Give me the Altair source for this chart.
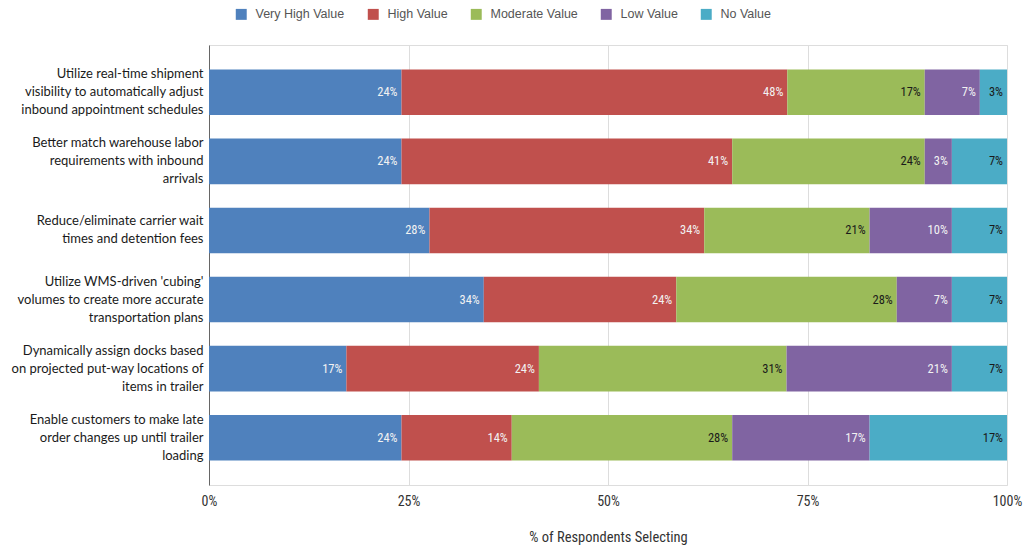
import altair as alt
import pandas as pd

tasks = [
    "Utilize real-time shipment|visibility to automatically adjust|inbound appointment schedules",
    "Better match warehouse labor|requirements with inbound|arrivals",
    "Reduce/eliminate carrier wait|times and detention fees",
    "Utilize WMS-driven 'cubing'|volumes to create more accurate|transportation plans",
    "Dynamically assign docks based|on projected put-way locations of|items in trailer",
    "Enable customers to make late|order changes up until trailer|loading",
]
levels = ["Very High Value", "High Value", "Moderate Value", "Low Value", "No Value"]
colors = ["#4F81BD", "#C0504D", "#9BBB59", "#8064A2", "#4BACC6"]

very_high = [24.1, 24.1, 27.6, 34.4, 17.2, 24.1]
high = [48.3, 41.4, 34.4, 24.1, 24.1, 13.8]
moderate = [17.2, 24.1, 20.7, 27.6, 31.0, 27.6]
low = [6.9, 3.4, 10.3, 6.9, 20.7, 17.2]
none_ = [3.4, 6.9, 6.9, 6.9, 6.9, 17.2]

series = [very_high, high, moderate, low, none_]
rows = []
for li, (lvl, vals) in enumerate(zip(levels, series)):
    for t, v in zip(tasks, vals):
        rows.append({"task": t, "level": lvl, "order": li, "value": v})
df = pd.DataFrame(rows)

narrow = "Liberation Sans Narrow, Roboto Condensed, Roboto, sans-serif"

base = alt.Chart(df).transform_stack(
    stack="value",
    as_=["x0", "x1"],
    groupby=["task"],
    sort=[alt.SortField("order", order="ascending")],
    offset="normalize",
)

ysc = alt.Scale(domain=tasks, paddingInner=0.34, paddingOuter=0.355)

bars = base.mark_bar().encode(
    x=alt.X(
        "x0:Q",
        scale=alt.Scale(domain=[0, 1], nice=False),
        axis=alt.Axis(
            format=".0%",
            values=[0, 0.25, 0.5, 0.75, 1],
            title="% of Respondents Selecting",
            titleFont=narrow,
            titleFontSize=14.5,
            titleFontWeight="normal",
            titleColor="#333",
            titlePadding=22,
            labelFont=narrow,
            labelFontSize=14,
            labelColor="#333",
            labelPadding=9,
            labelFlush=False,
            domain=False,
            ticks=False,
            grid=True,
            gridColor="#dddddd",
        ),
    ),
    x2="x1:Q",
    y=alt.Y(
        "task:N",
        scale=ysc,
        sort=tasks,
        title=None,
        axis=alt.Axis(
            labelExpr="split(datum.label, '|')",
            labelFont="Lato, Open Sans, sans-serif",
            labelFontSize=13,
            labelColor="#1a1a1a",
            labelLineHeight=18,
            labelPadding=6,
            labelLimit=300,
            labelOffset=alt.condition(
                "indexof(datum.value, 'Reduce') == 0", alt.value(-9), alt.value(-18)
            ),
            ticks=False,
            domain=True,
            domainColor="#666",
            grid=False,
        ),
    ),
    color=alt.Color(
        "level:N",
        scale=alt.Scale(domain=levels, range=colors),
        sort=levels,
        legend=alt.Legend(
            title=None,
            orient="none",
            direction="horizontal",
            legendX=26,
            legendY=-37,
            symbolType="square",
            symbolSize=120,
            symbolStrokeWidth=0,
            labelFont="Liberation Sans, Arial, sans-serif",
            labelFontSize=12.5,
            labelColor="#555",
            labelOffset=8,
            columnPadding=22,
        ),
    ),
    order=alt.Order("order:Q"),
)

labels = base.transform_calculate(
    pct="format(datum.x1 - datum.x0, '.0%')",
    dark="datum.level == 'Moderate Value' || datum.level == 'No Value'",
).mark_text(align="right", baseline="middle", dx=-4, font=narrow, fontSize=12.5).encode(
    x="x1:Q",
    y=alt.Y("task:N", scale=ysc, sort=tasks),
    text="pct:N",
    color=alt.condition("datum.dark", alt.value("#1a1a1a"), alt.value("#f2f2f2")),
)

chart = (
    alt.layer(bars, labels)
    .properties(
        width=798,
        height=440,
        autosize=alt.AutoSizeParams(type="none"),
        padding={"left": 209, "top": 45, "right": 16, "bottom": 61},
    )
    .configure_view(stroke=None)
    .configure(background="white")
)

chart.save("out.html", embed_options={"renderer": "svg", "actions": False})
